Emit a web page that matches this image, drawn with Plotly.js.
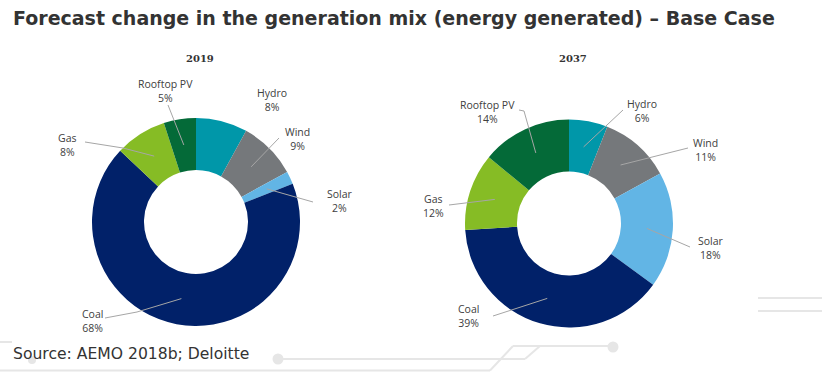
<!DOCTYPE html>
<html>
<head>
<meta charset="utf-8">
<script src="https://cdn.plot.ly/plotly-3.0.1.min.js"></script>
<style>html,body{margin:0;padding:0;background:#fff;}#chart{width:822px;height:372px;}</style>
</head>
<body>
<div id="chart"></div>
<script>
// ---- data ----
const categories = ['Hydro', 'Wind', 'Solar', 'Coal', 'Gas', 'Rooftop PV'];
const years = ['2019', '2037'];
const values2019 = [8, 9, 2, 68, 8, 5];
const values2037 = [6, 11, 18, 39, 12, 14];
const titleText = 'Forecast change in the generation mix (energy generated) \u2013 Base Case';
const sourceText = 'Source: AEMO 2018b; Deloitte';

// ---- styles / layout positions (pixels) ----
const colors = ['#0097A9', '#75787B', '#62B5E5', '#012169', '#86BC25', '#046A38'];
const W = 822, H = 372;
const pieGeom = [{cx: 196, cy: 222, r: 104}, {cx: 569, cy: 223.5, r: 104}];
const HOLE = 0.5;
// label centre [x, y] and leader-line points (from label side to slice), per pie, per category
const labelPos = [
  [[272, 99.5], [297, 139], [340, 201], [92, 320.5], [67, 144.5], [165, 91]],
  [[642, 110.5], [705, 150], [711, 248], [468, 315.5], [433, 206], [487, 111.5]]
];
const leaderPts = [
  [null, [[279, 138]], [[313, 202]], [[105, 318], [137, 312]], [[85, 142], [123, 148]], [[168, 105]]],
  [[[623, 110]], [[688, 148]], [[690, 247]], [[493, 316]], [[449, 205]], [[519, 110], [524, 111]]]
];

const px = x => x / W;
const py = y => 1 - y / H;

const allValues = [values2019, values2037];
const traces = allValues.map((vals, i) => {
  const g = pieGeom[i];
  return {
    type: 'pie',
    labels: categories,
    values: vals,
    sort: false,
    direction: 'clockwise',
    rotation: 0,
    hole: HOLE,
    textinfo: 'none',
    hoverinfo: 'label+percent',
    showlegend: false,
    marker: {colors: colors, line: {width: 0}},
    domain: {x: [px(g.cx - g.r), px(g.cx + g.r)], y: [py(g.cy + g.r), py(g.cy - g.r)]}
  };
});

const annotations = [];
const shapes = [];

// decorative background lines
const deco = '#e6e6e6';
function dline(x0, y0, x1, y1, w) {
  shapes.push({type: 'line', xref: 'paper', yref: 'paper', layer: 'below',
    x0: px(x0), y0: py(y0), x1: px(x1), y1: py(y1), line: {color: deco, width: w || 2}});
}
function dcirc(cx, cy, r) {
  shapes.push({type: 'circle', xref: 'paper', yref: 'paper', layer: 'below',
    x0: px(cx - r), x1: px(cx + r), y0: py(cy + r), y1: py(cy - r),
    fillcolor: deco, line: {width: 0}});
}
dline(758, 298, 822, 298); dline(758, 311, 822, 311);
dline(278, 359, 525, 359); dline(525, 359, 540, 346); dline(513, 346, 613, 346);
dline(0, 370.5, 490, 370.5); dline(490, 370.5, 513, 346);
dline(0, 342, 12, 342);
dcirc(278, 359, 5.5); dcirc(613, 347, 5.5); dcirc(32, 360, 4);

// title and source
annotations.push({xref: 'paper', yref: 'paper', x: px(11), y: py(18), xanchor: 'left', yanchor: 'middle',
  text: '<b>' + titleText + '</b>', showarrow: false,
  font: {family: 'DejaVu Sans', size: 19, color: '#333333'}});
annotations.push({xref: 'paper', yref: 'paper', x: px(11), y: py(354), xanchor: 'left', yanchor: 'middle',
  text: sourceText, showarrow: false,
  font: {family: 'DejaVu Sans', size: 15.6, color: '#333333'}});

allValues.forEach((vals, i) => {
  const g = pieGeom[i];
  annotations.push({xref: 'paper', yref: 'paper', x: px(g.cx + 4), y: py(59), xanchor: 'center', yanchor: 'middle',
    text: '<b>' + years[i] + '</b>', showarrow: false,
    font: {family: 'DejaVu Serif', size: 10, color: '#333333'}});
  const total = vals.reduce((a, b) => a + b, 0);
  let cum = 0;
  vals.forEach((v, j) => {
    const mid = (cum + v / 2) / total * 2 * Math.PI;
    cum += v;
    const rr = g.r * (1 + HOLE) / 2;
    const ax = g.cx + rr * Math.sin(mid), ay = g.cy - rr * Math.cos(mid);
    const lp = labelPos[i][j];
    annotations.push({xref: 'paper', yref: 'paper', x: px(lp[0]), y: py(lp[1]), xanchor: 'center', yanchor: 'middle',
      text: categories[j] + '<br>' + Math.round(v / total * 100) + '%', showarrow: false,
      font: {family: 'Open Sans', size: 10.5, color: '#404040'}});
    const pts = leaderPts[i][j];
    if (pts) {
      const path = pts.concat([[ax, ay]]);
      for (let k = 0; k < path.length - 1; k++) {
        shapes.push({type: 'line', xref: 'paper', yref: 'paper', layer: 'above',
          x0: px(path[k][0]), y0: py(path[k][1]), x1: px(path[k + 1][0]), y1: py(path[k + 1][1]),
          line: {color: '#a6a6a6', width: 1}});
      }
    }
  });
});

const layout = {
  width: W, height: H,
  margin: {l: 0, r: 0, t: 0, b: 0},
  paper_bgcolor: '#ffffff',
  plot_bgcolor: '#ffffff',
  showlegend: false,
  annotations: annotations,
  shapes: shapes
};
Plotly.newPlot('chart', traces, layout, {displayModeBar: false, staticPlot: true});
</script>
</body>
</html>
